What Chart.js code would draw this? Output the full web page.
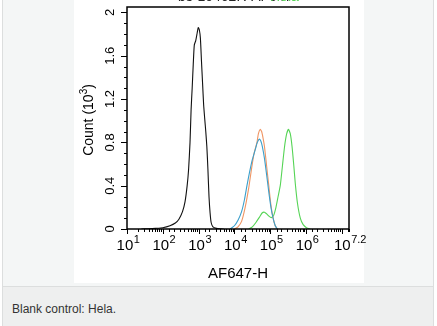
<!DOCTYPE html>
<html>
<head>
<meta charset="utf-8">
<script src="https://cdn.jsdelivr.net/npm/chart.js@4/dist/chart.umd.min.js"></script>
<style>
  body { margin: 0; width: 437px; height: 326px; overflow: hidden; background: #fff;
         font-family: "Liberation Sans", Arial, sans-serif; }
  #frame { position: absolute; left: 2px; top: -1px; width: 430px; height: 330px;
           background: #eeefef; border: 1px solid #dcdede; }
  #figure { position: absolute; left: 0; top: 0; width: 430px; height: 286px;
            background: #f4f6f6; border-bottom: 1px solid #dcdede; }
  #panel { position: absolute; left: 71px; top: 0; width: 290px; height: 283px; background: #fff; }
  #caption { position: absolute; left: 12px; top: 302px; font-size: 12px; color: #333; }
  canvas { position: absolute; left: 0; top: 0; }
</style>
</head>
<body>
<div id="frame">
  <div id="figure"><div id="panel"></div></div>
</div>
<div id="caption">Blank control: Hela.</div>
<canvas id="hist" width="437" height="326"></canvas>
<script>
// histogram channels are log10 of AF647-H intensity, counts in thousands
var blankLog   = [1.4, 1.6, 1.8, 2.0, 2.2, 2.35, 2.45, 2.55, 2.62, 2.68, 2.72, 2.76, 2.79, 2.82, 2.85, 2.88, 2.92, 2.96, 2.99, 3.02, 3.05, 3.08, 3.11, 3.14, 3.17, 3.2, 3.23, 3.26, 3.29, 3.32, 3.35, 3.4, 3.5, 3.6, 3.7];
var blankCount = [0, 0.002, 0.006, 0.012, 0.03, 0.055, 0.09, 0.16, 0.25, 0.4, 0.55, 0.8, 1.1, 1.3, 1.52, 1.7, 1.74, 1.81, 1.86, 1.84, 1.76, 1.55, 1.35, 1.15, 1.02, 0.9, 0.76, 0.55, 0.3, 0.15, 0.06, 0.02, 0.006, 0.002, 0];

var isoLog     = [4.0, 4.1, 4.2, 4.3, 4.4, 4.48, 4.55, 4.63, 4.67, 4.72, 4.76, 4.8, 4.84, 4.9, 4.96, 5.02, 5.08, 5.14, 5.2];
var isoCount   = [0, 0.02, 0.07, 0.2, 0.38, 0.56, 0.7, 0.8, 0.88, 0.92, 0.9, 0.84, 0.76, 0.58, 0.4, 0.22, 0.1, 0.03, 0];

var ctrlLog    = [3.88, 4.0, 4.1, 4.2, 4.28, 4.35, 4.42, 4.5, 4.58, 4.64, 4.7, 4.74, 4.78, 4.84, 4.9, 4.96, 5.02, 5.08, 5.14, 5.2];
var ctrlCount  = [0, 0.03, 0.08, 0.16, 0.27, 0.4, 0.52, 0.64, 0.73, 0.8, 0.83, 0.81, 0.76, 0.65, 0.5, 0.34, 0.2, 0.1, 0.03, 0];

var stainLog   = [4.4, 4.5, 4.6, 4.7, 4.78, 4.84, 4.9, 4.96, 5.03, 5.1, 5.16, 5.22, 5.28, 5.34, 5.4, 5.46, 5.51, 5.56, 5.61, 5.66, 5.7, 5.76, 5.84, 5.92, 6.02, 6.12];
var stainCount = [0, 0.02, 0.06, 0.11, 0.15, 0.155, 0.14, 0.12, 0.105, 0.13, 0.2, 0.3, 0.4, 0.58, 0.76, 0.88, 0.92, 0.88, 0.76, 0.58, 0.42, 0.24, 0.1, 0.04, 0.01, 0];

var xLabelExps = [1, 2, 3, 4, 5, 6, 7.2];
var yLabelVals = [0, 0.4, 0.8, 1.2, 1.6, 2];

function points(logs, counts) {
  return logs.map(function (e, i) { return { x: Math.pow(10, e), y: counts[i] }; });
}

function series(label, logs, counts, color, order) {
  return {
    label: label,
    data: points(logs, counts),
    borderColor: color,
    borderWidth: 1.1,
    pointRadius: 0,
    tension: 0.2,
    fill: false,
    order: order
  };
}

var FONT = '"Liberation Sans", Arial, sans-serif';

// box, tick marks and all axis text
var frameAxes = {
  id: 'frameAxes',
  afterDraw: function (chart) {
    var ctx = chart.ctx, a = chart.chartArea;
    var xs = chart.scales.x, ys = chart.scales.y;
    ctx.save();
    ctx.strokeStyle = '#000';
    ctx.fillStyle = '#000';
    ctx.lineWidth = 1.5;
    ctx.strokeRect(a.left, a.top, a.right - a.left, a.bottom - a.top);

    ctx.lineWidth = 1;
    ctx.beginPath();
    xs.ticks.forEach(function (t) {
      var px = Math.round(xs.getPixelForValue(t.value)) + 0.5;
      var len = t.major ? 5 : 3;
      ctx.moveTo(px, a.bottom);
      ctx.lineTo(px, a.bottom + len);
    });
    ys.ticks.forEach(function (t) {
      var py = Math.round(ys.getPixelForValue(t.value)) + 0.5;
      var major = yLabelVals.some(function (v) { return Math.abs(v - t.value) < 1e-6; });
      ctx.moveTo(a.left, py);
      ctx.lineTo(a.left - (major ? 6 : 3), py);
    });
    ctx.stroke();

    // x tick labels: 10 with raised exponent
    ctx.textBaseline = 'alphabetic';
    xLabelExps.forEach(function (e) {
      var px = xs.getPixelForValue(Math.pow(10, e));
      var base = '10', sup = String(e);
      ctx.font = '15px ' + FONT;
      var wb = ctx.measureText(base).width;
      ctx.font = '11px ' + FONT;
      var ws = ctx.measureText(sup).width;
      var x0 = px - (wb + ws) / 2 + 1;
      ctx.font = '15px ' + FONT;
      ctx.textAlign = 'left';
      ctx.fillText(base, x0, 250);
      ctx.font = '11px ' + FONT;
      ctx.fillText(sup, x0 + wb + 0.5, 243);
    });

    // y tick labels, turned to read upward
    yLabelVals.forEach(function (v) {
      var py = ys.getPixelForValue(v);
      ctx.save();
      ctx.translate(114, py);
      ctx.rotate(-Math.PI / 2);
      ctx.font = '13px ' + FONT;
      ctx.textAlign = 'center';
      ctx.textBaseline = 'alphabetic';
      ctx.fillText(String(v), 0, 0);
      ctx.restore();
    });

    // axis titles
    ctx.font = '15px ' + FONT;
    ctx.textAlign = 'center';
    ctx.fillText('AF647-H', (a.left + a.right) / 2, 278);

    ctx.save();
    ctx.translate(93, (a.top + a.bottom) / 2 + 2);
    ctx.rotate(-Math.PI / 2);
    ctx.font = '14px ' + FONT;
    var t1 = 'Count (10', t2 = '3', t3 = ')';
    var w1 = ctx.measureText(t1).width, w3 = ctx.measureText(t3).width;
    ctx.font = '10px ' + FONT;
    var w2 = ctx.measureText(t2).width;
    var sx = -(w1 + w2 + w3) / 2;
    ctx.textAlign = 'left';
    ctx.font = '14px ' + FONT;
    ctx.fillText(t1, sx, 0);
    ctx.font = '10px ' + FONT;
    ctx.fillText(t2, sx + w1, -6);
    ctx.font = '14px ' + FONT;
    ctx.fillText(t3, sx + w1 + w2, 0);
    ctx.restore();

    // plot title, cut by the top edge of the panel
    ctx.font = '14px ' + FONT;
    ctx.textAlign = 'left';
    ctx.fillStyle = '#222';
    ctx.fillText('bs-10462R-AF647', 178, 0.5);
    ctx.fillStyle = '#5bd45b';
    ctx.fillText('Hela', 270, 0.5);
    ctx.restore();
  }
};

new Chart(document.getElementById('hist'), {
  type: 'line',
  data: {
    datasets: [
      series('Blank control', blankLog, blankCount, '#111111', 4),
      series('Stained', stainLog, stainCount, '#55d455', 3),
      series('Isotype', isoLog, isoCount, '#ef9563', 2),
      series('Control', ctrlLog, ctrlCount, '#3b9fcb', 1)
    ]
  },
  options: {
    responsive: false,
    animation: false,
    events: [],
    layout: { padding: { left: 0, top: 7, right: 88, bottom: 0 } },
    plugins: { legend: { display: false }, tooltip: { enabled: false } },
    scales: {
      x: {
        type: 'logarithmic',
        min: 10,
        max: Math.pow(10, 7.2),
        ticks: { display: false },
        grid: { display: false },
        border: { display: false },
        afterFit: function (s) { s.height = 97; }
      },
      y: {
        min: 0,
        max: 2.05,
        ticks: { display: false, stepSize: 0.1, includeBounds: false },
        grid: { display: false },
        border: { display: false },
        afterFit: function (s) { s.width = 127; }
      }
    }
  },
  plugins: [frameAxes]
});
</script>
</body>
</html>
